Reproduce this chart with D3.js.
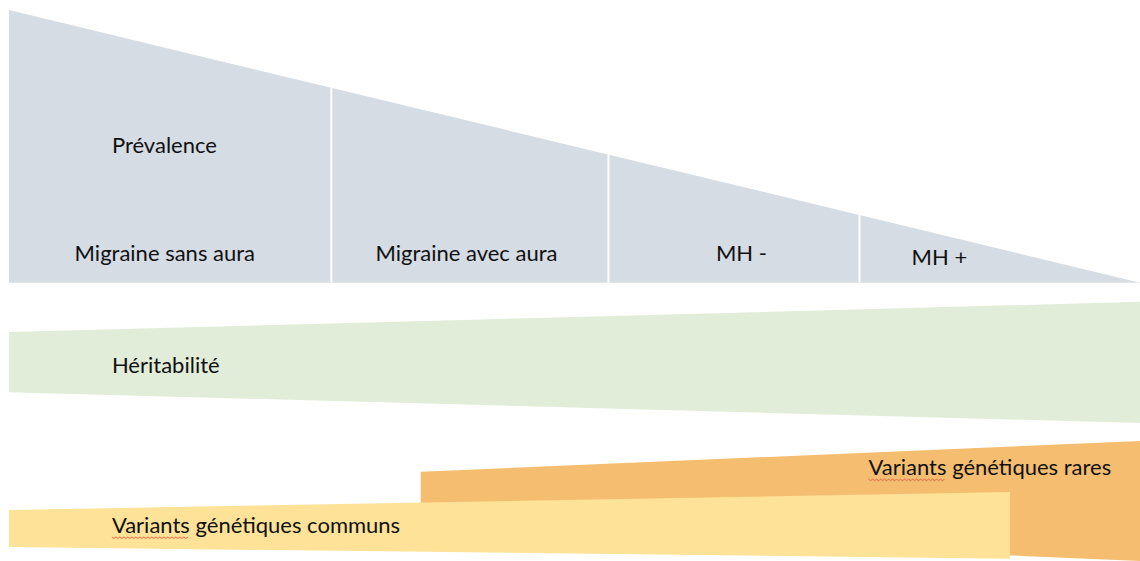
<!DOCTYPE html>
<html>
<head>
<meta charset="utf-8">
<script src="https://cdn.jsdelivr.net/npm/d3@7"></script>
<style>
  body { margin: 0; background: #fff; }
  svg { display: block; }
  text { font-family: Lato, "Open Sans", sans-serif; font-size: 22px; fill: #111; }
</style>
</head>
<body>
<svg id="chart" width="1140" height="561"></svg>
<script>
// ======================================================================
// DATA (x in % of width, levels in % of height from the bottom)
// ======================================================================

var categories = ["Migraine sans aura", "Migraine avec aura", "MH -", "MH +"];
var dividers = [28.5, 53.0, 75.2];              // borders between categories
var categoryLabelX = [5.8, 32.4, 62.5, 79.8];
var categoryLabelY = [53.4, 53.4, 53.4, 52.7];

// each band: left / right ends, lower (lo) and upper (hi) levels
var prevalence = [{u: 0, lo: 49.6, hi: 98.2}, {u: 100, lo: 49.6, hi: 49.6}];
var heritability = [{u: 0, lo: 30.1, hi: 40.8}, {u: 100, lo: 24.6, hi: 46.2}];
var rareVariants = [{u: 36.4, lo: 5.5, hi: 15.9}, {u: 100, lo: 0, hi: 21.4}];
var commonVariants = [{u: 0, lo: 2.5, hi: 9.1}, {u: 88.5, lo: 0.4, hi: 12.3}];

var bandLabels = ["Prévalence", "Héritabilité", "Variants génétiques rares", "Variants génétiques communs"];
var bandLabelX = [9.1, 9.1, 76.0, 9.1];
var bandLabelY = [72.7, 33.6, 15.3, 5.0];
var underlined = [false, false, true, true];     // spell-check squiggle under "Variants"

// ======================================================================
// DRAWING
// ======================================================================

var svg = d3.select("#chart");
var width = +svg.attr("width");
var height = +svg.attr("height");

var x = d3.scaleLinear().domain([0, 100]).range([9, width]);
var y = d3.scaleLinear().domain([0, 100]).range([height, 0]);

var area = d3.area()
    .x(function(d) { return x(d.u); })
    .y0(function(d) { return y(d.lo); })
    .y1(function(d) { return y(d.hi); });

var bands = [
  {pts: prevalence, fill: "#d5dce4"},
  {pts: heritability, fill: "#e1edd8"},
  {pts: rareVariants, fill: "#f5bd70"},
  {pts: commonVariants, fill: "#fde298"}
];

svg.append("g").selectAll("path")
  .data(bands)
  .enter().append("path")
    .attr("d", function(d) { return area(d.pts); })
    .attr("fill", function(d) { return d.fill; });

// white lines splitting the prevalence triangle
var topEdge = d3.scaleLinear()
    .domain([prevalence[0].u, prevalence[1].u])
    .range([prevalence[0].hi, prevalence[1].hi]);

svg.append("g").selectAll("line")
  .data(dividers)
  .enter().append("line")
    .attr("x1", function(d) { return x(d); })
    .attr("x2", function(d) { return x(d); })
    .attr("y1", y(prevalence[0].lo))
    .attr("y2", function(d) { return y(topEdge(d)); })
    .attr("stroke", "#fff")
    .attr("stroke-width", 2);

svg.append("g").selectAll("text")
  .data(categories)
  .enter().append("text")
    .attr("x", function(d, i) { return x(categoryLabelX[i]); })
    .attr("y", function(d, i) { return y(categoryLabelY[i]); })
    .text(function(d) { return d; });

var labels = svg.append("g").selectAll("text")
  .data(bandLabels)
  .enter().append("text")
    .attr("x", function(d, i) { return x(bandLabelX[i]); })
    .attr("y", function(d, i) { return y(bandLabelY[i]); })
    .text(function(d) { return d; });

// red wavy underline under the first word
labels.each(function(d, i) {
  if (!underlined[i]) return;
  var t = d3.select(this);
  var first = this.getSubStringLength(0, d.indexOf(" "));
  var x0 = +t.attr("x"), y0 = +t.attr("y") + 4;
  var pts = [];
  for (var k = 0; k * 2 <= first; k++) {
    pts.push([x0 + k * 2, y0 + (k % 2 ? 1.5 : 0)]);
  }
  svg.append("path")
    .attr("d", d3.line()(pts))
    .attr("fill", "none")
    .attr("stroke", "#e0473a")
    .attr("stroke-width", 0.8);
});
</script>
</body>
</html>
